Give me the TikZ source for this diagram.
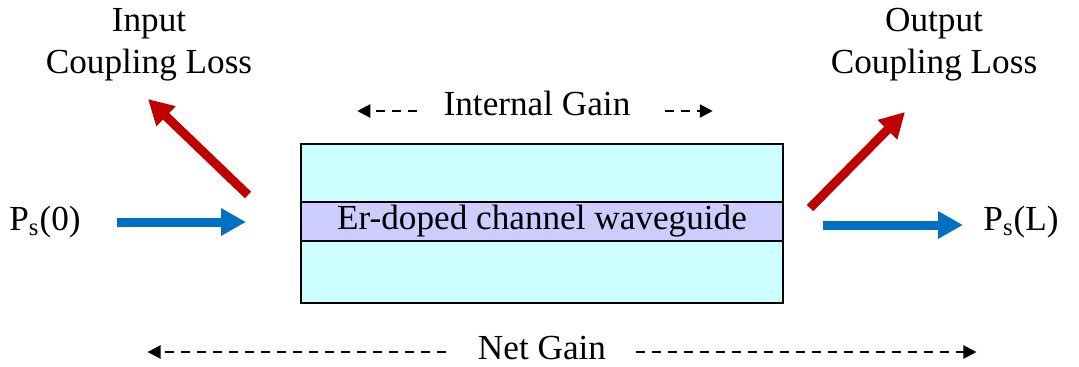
\documentclass[tikz,border=0pt]{standalone}
\usepackage{fontspec}
\setmainfont{Liberation Serif}
\usetikzlibrary{arrows.meta}
\definecolor{bluearr}{RGB}{0,112,192}
\definecolor{redarr}{RGB}{192,0,0}
\definecolor{cladfill}{RGB}{204,255,255}
\definecolor{corefill}{RGB}{204,204,255}
\tikzset{
    LB/.style ={align=center, inner sep=0pt, font=\fontsize{17.6}{21}\selectfont},
    BA/.style ={bluearr, line width=4.5pt, -{Triangle[length=12.5pt,width=13pt]}},
    RA/.style ={redarr, line width=4.5pt, -{Triangle[length=12.5pt,width=13pt]}},
    DA/.style ={line width=1.2pt, dash pattern=on 4.5pt off 3.5pt, -{Triangle[length=6.5pt,width=6.5pt]}}}

\begin{document}
\begin{tikzpicture}[x=0.5pt,y=-0.5pt]
        \useasboundingbox (0,0) rectangle (1079,366);
        % waveguide
        \draw[line width=1pt, fill=cladfill] (301,144) rectangle (783,303);
        \node[LB, draw, line width=1pt, fill=corefill, minimum width=241pt, minimum height=19.5pt] (core) at (542,221.5){Er-doped channel waveguide};
        % labels
        \node[LB] (inl) at (149,45){Input\\Coupling Loss};
        \node[LB] (outl) at (934,45){Output\\Coupling Loss};
        \node[LB] (ig) at (537,103){Internal Gain};
        \node[LB] (ng) at (542,348){Net Gain};
        \node[LB] (ps0) at (45,222){P\textsubscript{s}(0)};
        \node[LB] (psl) at (1021,222){P\textsubscript{s}(L)};
        % free ends
        \coordinate (a1) at (117,222);
        \coordinate (a2) at (246,222);
        \coordinate (a3) at (823,225);
        \coordinate (a4) at (963,225);
        \coordinate (r1) at (248,195);
        \coordinate (r2) at (148,99);
        \coordinate (r3) at (810,208);
        \coordinate (r4) at (905,112);
        \coordinate (igL) at ([xshift=-43pt,yshift=-4pt]ig.west);
        \coordinate (igR) at ([xshift=41pt,yshift=-4pt]ig.east);
        \coordinate (ngL) at ([xshift=-165pt,yshift=-2pt]ng.west);
        \coordinate (ngR) at ([xshift=185pt,yshift=-2pt]ng.east);
        \draw[BA] (a1) -- (a2);
        \draw[BA] (a3) -- (a4);
        \draw[RA] (r1) -- (r2);
        \draw[RA] (r3) -- (r4);
        \draw[DA] ([xshift=-13pt,yshift=-4pt]ig.west) -- (igL);
        \draw[DA] ([xshift=17pt,yshift=-4pt]ig.east) -- (igR);
        \draw[DA] ([xshift=-16pt,yshift=-2pt]ng.west) -- (ngL);
        \draw[DA] ([xshift=15pt,yshift=-2pt]ng.east) -- (ngR);
    \end{tikzpicture}
\end{document}
